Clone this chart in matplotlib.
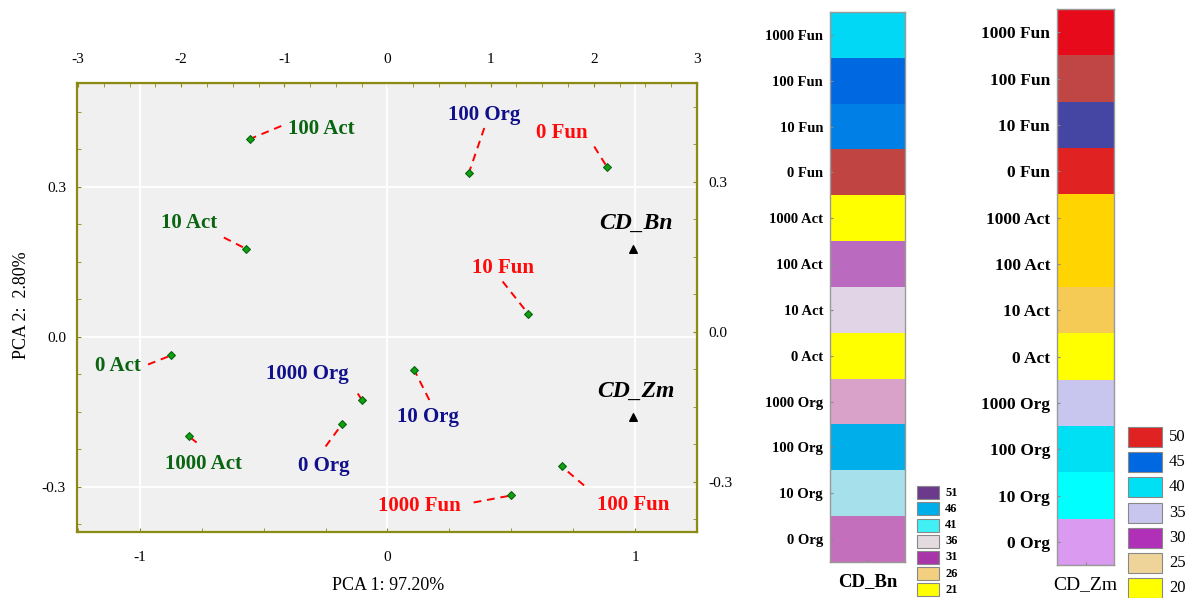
import numpy as np
import matplotlib
matplotlib.use("Agg")
import matplotlib.pyplot as plt
from matplotlib.colors import ListedColormap
from matplotlib.patches import Rectangle

plt.rcParams["font.family"] = ["Liberation Serif", "DejaVu Serif"]
plt.rcParams["axes.unicode_minus"] = False

# PCA scores (PCA 1 / PCA 2)
samples = ["100 Act", "10 Act", "100 Org", "0 Fun", "10 Fun", "0 Act", "1000 Org",
           "1000 Act", "0 Org", "10 Org", "100 Fun", "1000 Fun"]
pc1 = [-0.556, -0.570, 0.328, 0.888, 0.569, -0.875, -0.102, -0.802, -0.183, 0.108, 0.704, 0.499]
pc2 = [0.396, 0.176, 0.327, 0.339, 0.046, -0.037, -0.127, -0.199, -0.174, -0.066, -0.259, -0.317]
groups = ["Act", "Act", "Org", "Fun", "Fun", "Act", "Org", "Act", "Org", "Org", "Fun", "Fun"]

# variables (loadings)
variables = ["CD_Bn", "CD_Zm"]
var_pc1 = [0.992, 0.992]
var_pc2 = [0.175, -0.161]

# label placement (text centre, start of leader line)
label_xy = [(-0.267, 0.416), (-0.802, 0.228), (0.391, 0.444), (0.704, 0.407), (0.465, 0.137),
            (-1.087, -0.059), (-0.325, -0.074), (-0.745, -0.254), (-0.258, -0.259),
            (0.163, -0.161), (0.992, -0.337), (0.129, -0.338)]
leader_xy = [(-0.429, 0.422), (-0.661, 0.199), (0.391, 0.418), (0.835, 0.381), (0.465, 0.111),
             (-0.967, -0.055), (-0.120, -0.113), (-0.771, -0.211), (-0.250, -0.219),
             (0.169, -0.126), (0.794, -0.297), (0.348, -0.331)]

# heatmap columns (rows from top to bottom)
rows = ["1000 Fun", "100 Fun", "10 Fun", "0 Fun", "1000 Act", "100 Act", "10 Act", "0 Act",
        "1000 Org", "100 Org", "10 Org", "0 Org"]
cells_bn = ["#00d8f5", "#0068e0", "#0080e6", "#c04442", "#ffff00", "#bb6bbf", "#e0d4e6",
            "#ffff00", "#d9a3c9", "#00aeea", "#a6e0ea", "#c46fbb"]
cells_zm = ["#e60a1a", "#c04545", "#4545a3", "#e02222", "#ffd400", "#ffd400", "#f5cb55",
            "#ffff00", "#c8c6ee", "#00e0f5", "#00ffff", "#d99af0"]
legend_bn = ["51", "46", "41", "36", "31", "26", "21"]
legend_bn_col = ["#6b3a8c", "#00aeea", "#40f0f5", "#e3dbe0", "#a836a8", "#f2d080", "#ffff00"]
legend_zm = ["50", "45", "40", "35", "30", "25", "20"]
legend_zm_col = ["#e02222", "#0068e0", "#00e0f5", "#c8c6ee", "#b030b8", "#efd49a", "#ffff00"]

group_colors = {"Act": "#0a6410", "Org": "#10108c", "Fun": "#ff0a0a"}
olive = "#8a8a14"

fig = plt.figure(figsize=(11.92, 5.98), dpi=100)

# ---- PCA scatter ----
ax = fig.add_axes([0.0646, 0.1104, 0.5201, 0.7508])
ax.set_facecolor("#f0f0f0")
ax.set_xlim(-1.254, 1.246)
ax.set_ylim(-0.39, 0.508)
for s in ax.spines.values():
    s.set_color(olive)
    s.set_linewidth(1.6)
ax.set_xticks([-1, 0, 1])
ax.set_xticks(np.arange(-1.25, 1.26, 0.25), minor=True)
ax.set_yticks([-0.3, 0.0, 0.3])
ax.set_yticklabels(["-0.3", "0.0", "0.3"])
ax.set_yticks(np.arange(-0.375, 0.51, 0.075), minor=True)
ax.tick_params(which="both", direction="in", color=olive, labelsize=11, length=3)
ax.tick_params(axis="x", pad=14)
ax.tick_params(axis="y", pad=8)
ax.grid(True, which="major", color="white", linewidth=1.3)
ax.set_axisbelow(True)

top = ax.secondary_xaxis("top", functions=(lambda x: x * 2.4, lambda x: x / 2.4))
top.set_xticks([-3, -2, -1, 0, 1, 2, 3])
top.set_xticks(np.arange(-3, 3.01, 0.25), minor=True)
top.tick_params(which="both", direction="in", color=olive, labelsize=11, length=3, pad=12)
top.spines["top"].set_color(olive)

right = ax.secondary_yaxis("right", functions=(lambda y: y - 0.01, lambda y: y + 0.01))
right.set_yticks([-0.3, 0.0, 0.3])
right.set_yticklabels(["-0.3", "0.0", "0.3"])
right.set_yticks(np.arange(-0.375, 0.51, 0.075), minor=True)
right.tick_params(which="both", direction="in", color=olive, labelsize=11, length=3, pad=8)
right.spines["right"].set_color(olive)

for i, name in enumerate(samples):
    c = group_colors[groups[i]]
    ax.plot([leader_xy[i][0], pc1[i]], [leader_xy[i][1], pc2[i]], color="red",
            linestyle=(0, (4, 3)), linewidth=1.4, zorder=3)
    ax.text(label_xy[i][0], label_xy[i][1], name, color=c, fontsize=15, fontweight="bold",
            ha="center", va="center", zorder=5)
ax.scatter(pc1, pc2, marker="D", s=16, facecolor="#10a010", edgecolor="#0a6410",
           linewidth=0.8, zorder=4)

ax.scatter(var_pc1, var_pc2, marker="^", s=30, color="black", zorder=4)
for i, v in enumerate(variables):
    ax.text(var_pc1[i] + 0.01, var_pc2[i] + 0.052, v, fontsize=17, fontweight="bold",
            fontstyle="italic", ha="center", va="center", zorder=5)

fig.text(388 / 1192, 1 - 585 / 598, "PCA 1: 97.20%", fontsize=13, ha="center", va="center")
fig.text(22 / 1192, 1 - 305 / 598, "PCA 2:  2.80%", fontsize=13, ha="center", va="center",
         rotation=90)


# ---- heatmap columns ----
def column(rect, cells, title, label_size, title_size, title_weight):
    hx = fig.add_axes(rect)
    hx.imshow(np.arange(len(cells)).reshape(-1, 1), cmap=ListedColormap(cells),
              aspect="auto", interpolation="nearest")
    hx.set_yticks(range(len(rows)))
    hx.set_yticklabels(rows, fontsize=label_size, fontweight="bold")
    hx.set_xticks([0])
    hx.set_xticklabels([title], fontsize=title_size, fontweight=title_weight)
    hx.tick_params(axis="y", direction="in", length=2, color="#888888", pad=5)
    hx.tick_params(axis="x", direction="in", length=2, color="#888888", pad=8)
    for s in hx.spines.values():
        s.set_color("#999999")
        s.set_linewidth(1)
    return hx


column([0.6963, 0.0602, 0.0629, 0.9197], cells_bn, "CD_Bn", 10.5, 13.5, "bold")
column([0.8867, 0.0552, 0.0482, 0.9292], cells_zm, "CD_Zm", 12.5, 14, "normal")

# ---- legends ----
lg = fig.add_axes([0, 0, 1, 1])
lg.set_xlim(0, 1192)
lg.set_ylim(598, 0)
lg.axis("off")
for i, (lab, col) in enumerate(zip(legend_bn, legend_bn_col)):
    yc = 492.7 + i * 16.2
    lg.add_patch(Rectangle((917, yc - 6.5), 22, 13, facecolor=col, edgecolor="#888888",
                           linewidth=0.8))
    lg.text(945, yc, lab, fontsize=9, fontweight="bold", va="center", ha="left")
for i, (lab, col) in enumerate(zip(legend_zm, legend_zm_col)):
    yc = 437 + i * 25.2
    lg.add_patch(Rectangle((1128, yc - 10), 34, 20, facecolor=col, edgecolor="#888888",
                           linewidth=0.8))
    lg.text(1169, yc, lab, fontsize=12, va="center", ha="left")

fig.savefig("out.png", dpi=100)
